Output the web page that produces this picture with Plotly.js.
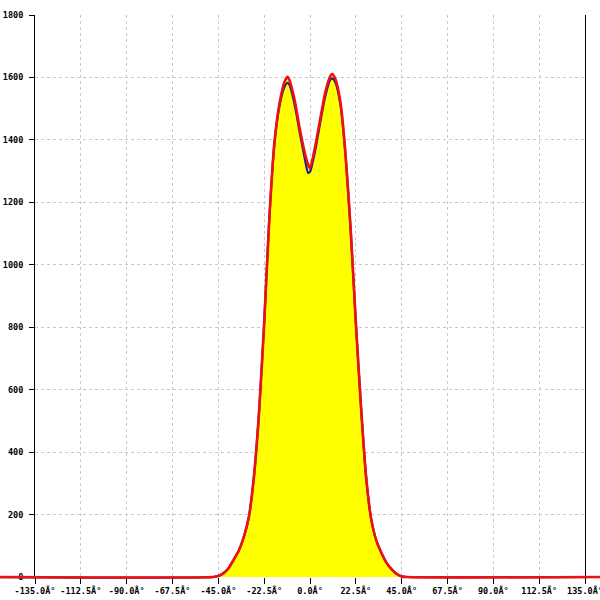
<!DOCTYPE html>
<html>
<head>
<meta charset="utf-8">
<script src="https://cdn.plot.ly/plotly-3.0.1.min.js"></script>
<style>html,body{margin:0;padding:0;background:#fff;}#chart{width:600px;height:600px;}</style>
</head>
<body>
<div id="chart"></div>
<script>
// Angle positions (degrees)
var angles = [-155, -47.5, -45, -42.5, -40, -37.5, -35, -32.5, -30, -27.5, -25, -22.5, -20, -17.5, -15, -12.5, -11, -10, -7.5, -5, -2.5, -1, 0, 2.5, 5, 7.5, 10, 11, 12.5, 15, 17.5, 20, 22.5, 25, 27.5, 30, 32.5, 35, 37.5, 40, 42.5, 45, 47.5, 145];
// Red series (also the yellow filled area)
var redValues = [0, 0, 3, 12, 28, 55, 84, 128, 193, 323, 529, 813, 1145, 1390, 1516, 1586, 1602, 1590, 1526, 1435, 1357, 1322, 1309, 1378, 1467, 1552, 1605, 1611, 1594, 1518, 1349, 1110, 815, 549, 324, 187, 118, 78, 46, 25, 10, 2, 0, 0];
// Blue series
var blueValues = [0, 0, 3, 12, 28, 55, 84, 128, 193, 323, 529, 813, 1145, 1385, 1508, 1570, 1583, 1575, 1512, 1422, 1338, 1295, 1298, 1364, 1455, 1540, 1593, 1597, 1584, 1510, 1346, 1108, 815, 549, 324, 187, 118, 78, 46, 25, 10, 2, 0, 0];
// Tick labels
var xTickVals = [-135, -112.5, -90, -67.5, -45, -22.5, 0, 22.5, 45, 67.5, 90, 112.5, 135];
var xTickText = ["-135.0\u00c2\u00b0", "-112.5\u00c2\u00b0", "-90.0\u00c2\u00b0", "-67.5\u00c2\u00b0", "-45.0\u00c2\u00b0", "-22.5\u00c2\u00b0", "0.0\u00c2\u00b0", "22.5\u00c2\u00b0", "45.0\u00c2\u00b0", "67.5\u00c2\u00b0", "90.0\u00c2\u00b0", "112.5\u00c2\u00b0", "135.0\u00c2\u00b0"];
var yTickVals = [0, 200, 400, 600, 800, 1000, 1200, 1400, 1600, 1800];

var W = 600, H = 600;
var axL = 35, axR = 585, axT = 15, axB = 577;
var degPerPx = 270 / (axR - axL);
var valPerPx = 1800 / (axB - axT);
var tickFont = {family: "DejaVu Sans Mono", size: 8.5, color: "#000", weight: "bold"};

var traces = [
  {x: [null], y: [null], xaxis: "x", yaxis: "y", mode: "lines", showlegend: false, hoverinfo: "skip"},
  {x: angles, y: redValues, xaxis: "x2", yaxis: "y2", mode: "lines", line: {width: 0, shape: "spline", smoothing: 0.6},
   fill: "tozeroy", fillcolor: "#ffff00", showlegend: false},
  {x: angles, y: blueValues, xaxis: "x2", yaxis: "y2", mode: "lines", line: {color: "#1c1ca0", width: 2.2, shape: "spline", smoothing: 0.6}, showlegend: false},
  {x: angles, y: redValues, xaxis: "x2", yaxis: "y2", mode: "lines", line: {color: "#ee1111", width: 2.6, shape: "spline", smoothing: 0.6}, showlegend: false}
];

var layout = {
  width: W, height: H,
  margin: {l: 0, r: 0, t: 0, b: 0},
  paper_bgcolor: "#fff",
  plot_bgcolor: "rgba(0,0,0,0)",
  showlegend: false,
  xaxis: {
    domain: [axL / W, axR / W], range: [-135, 135], anchor: "y",
    tickmode: "array", tickvals: xTickVals, ticktext: xTickText, tickangle: 0,
    ticks: "outside", ticklen: 6, tickcolor: "#000", tickwidth: 1,
    ticklabeloverflow: "allow",
    showline: false, zeroline: false,
    showgrid: true, gridcolor: "#c8c8c8", griddash: "3px,3px", gridwidth: 1,
    tickfont: tickFont, fixedrange: true
  },
  yaxis: {
    domain: [1 - axB / H, 1 - axT / H], range: [0, 1800], anchor: "x",
    tickmode: "array", tickvals: yTickVals,
    ticks: "outside", ticklen: 5, tickcolor: "#000", tickwidth: 1,
    showline: true, linecolor: "#000", linewidth: 1, mirror: true,
    zeroline: false,
    showgrid: true, gridcolor: "#c8c8c8", griddash: "3px,3px", gridwidth: 1,
    tickfont: tickFont, ticklabelstandoff: 4, fixedrange: true
  },
  xaxis2: {
    domain: [0, 1], anchor: "y2",
    range: [-135 - axL * degPerPx, 135 + (W - axR) * degPerPx],
    visible: false, fixedrange: true
  },
  yaxis2: {
    domain: [0, 1], anchor: "x2",
    range: [-(H - axB) * valPerPx, 1800 + axT * valPerPx],
    visible: false, fixedrange: true
  }
};

Plotly.newPlot("chart", traces, layout, {staticPlot: true, displayModeBar: false});
</script>
</body>
</html>
